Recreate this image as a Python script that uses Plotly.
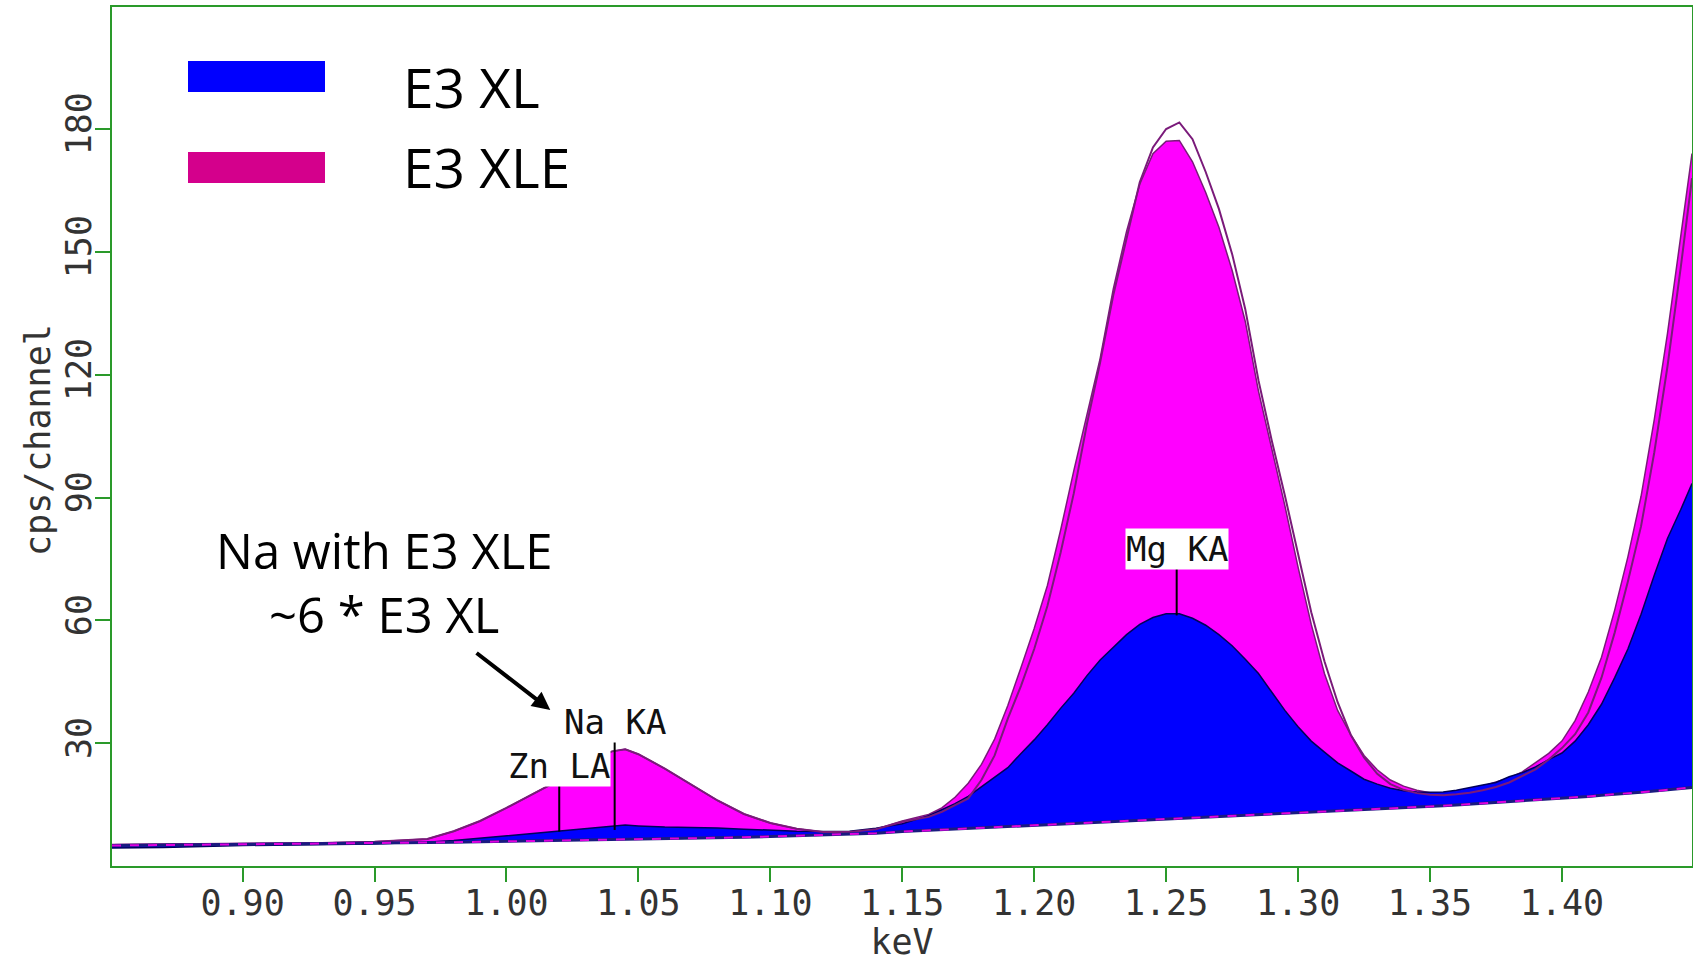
import plotly.graph_objects as go

# ---------------- data ----------------
energy_kev = [0.8505, 0.87, 0.90, 0.93, 0.95, 0.96, 0.97, 0.98, 0.99, 1.00,
              1.01, 1.02, 1.03, 1.04, 1.045, 1.05, 1.06, 1.07, 1.08, 1.09,
              1.10, 1.11, 1.12, 1.13, 1.14, 1.15, 1.16, 1.165, 1.17, 1.175,
              1.18, 1.185, 1.19, 1.195, 1.20, 1.205, 1.21, 1.215, 1.22, 1.225,
              1.23, 1.235, 1.24, 1.245, 1.25, 1.255, 1.26, 1.265, 1.27, 1.275,
              1.28, 1.285, 1.29, 1.295, 1.30, 1.305, 1.31, 1.315, 1.32, 1.325,
              1.33, 1.335, 1.34, 1.345, 1.35, 1.355, 1.36, 1.365, 1.37, 1.375,
              1.38, 1.385, 1.39, 1.395, 1.40, 1.405, 1.41, 1.415, 1.42, 1.425,
              1.43, 1.435, 1.44, 1.445, 1.4493]

background = [5.0, 5.1, 5.3, 5.4, 5.5, 5.6, 5.7, 5.8, 5.9, 6.0,
              6.1, 6.2, 6.3, 6.4, 6.45, 6.5, 6.6, 6.7, 6.85, 7.0,
              7.2, 7.4, 7.6, 7.8, 8.0, 8.4, 8.7, 8.9, 9.0, 9.2,
              9.3, 9.5, 9.6, 9.8, 10.0, 10.2, 10.3, 10.5, 10.6, 10.8,
              10.9, 11.1, 11.2, 11.3, 11.5, 11.6, 11.8, 11.9, 12.0, 12.2,
              12.3, 12.5, 12.6, 12.8, 12.9, 13.1, 13.3, 13.4, 13.6, 13.7,
              13.9, 14.0, 14.2, 14.3, 14.5, 14.7, 14.9, 15.1, 15.3, 15.5,
              15.7, 15.9, 16.1, 16.3, 16.5, 16.8, 17.0, 17.3, 17.5, 17.8,
              18.0, 18.3, 18.6, 18.9, 19.2]

e3_xle = [5.2, 5.3, 5.4, 5.6, 5.9, 6.2, 6.6, 8.5, 11.0, 14.2,
          17.5, 21.0, 25.0, 28.0, 28.5, 27.3, 23.8, 20.0, 16.0, 12.7,
          10.5, 9.1, 8.3, 8.3, 9.0, 11.0, 12.6, 14.2, 16.8, 20.2,
          24.8, 31.0, 39.2, 48.5, 58.0, 68.5, 82.0, 96.5, 110.0, 124.0,
          141.0, 155.0, 166.5, 174.0, 177.0, 177.2, 172.0, 164.5, 156.0, 145.5,
          133.0, 116.0, 102.0, 88.0, 73.0, 59.0, 47.0, 38.0, 32.0, 27.0,
          23.5, 21.0, 19.5, 18.5, 17.9, 17.9, 18.2, 18.8, 19.5, 20.5,
          21.5, 23.0, 25.2, 27.5, 30.5, 35.5, 42.5, 51.0, 62.5, 75.5,
          90.3, 109.0, 130.0, 154.0, 174.0]

e3_xl = [4.4, 4.5, 5.0, 5.2, 5.4, 5.6, 5.8, 6.2, 6.8, 7.3,
         7.9, 8.6, 9.2, 9.8, 10.0, 9.8, 9.5, 9.4, 9.3, 9.0,
         8.7, 8.5, 8.4, 8.5, 9.2, 10.3, 12.3, 13.8, 15.2, 17.0,
         19.3, 21.8, 24.0, 27.5, 30.8, 34.5, 38.5, 42.2, 46.5, 50.3,
         53.5, 56.5, 59.0, 60.7, 61.6, 61.6, 60.5, 58.8, 56.5, 53.8,
         50.5, 47.0, 42.5, 38.0, 34.0, 30.5, 27.8, 25.2, 23.2, 21.2,
         20.0, 19.0, 18.4, 18.1, 18.0, 18.1, 18.5, 19.2, 19.8, 20.4,
         21.8, 22.8, 24.2, 26.0, 27.6, 30.5, 34.5, 39.5, 46.0, 53.0,
         61.5, 71.0, 80.0, 87.0, 93.4]

fit_outline = [5.2, 5.3, 5.4, 5.6, 5.9, 6.2, 6.6, 8.5, 11.0, 14.2,
               17.5, 21.0, 25.0, 28.0, 28.5, 27.3, 23.8, 20.0, 16.0, 12.7,
               10.5, 9.1, 8.3, 8.3, 9.0, 10.8, 12.0, 13.2, 14.8, 16.5,
               21.0, 27.0, 36.0, 44.0, 53.0, 63.5, 76.5, 91.0, 108.0, 123.0,
               139.5, 153.5, 167.0, 175.5, 180.0, 181.6, 177.5, 169.5, 160.5, 149.5,
               136.0, 118.6, 104.0, 90.5, 76.0, 62.0, 50.0, 40.0, 32.0, 26.5,
               22.5, 20.0, 18.6, 17.8, 17.4, 17.3, 17.5, 17.9, 18.5, 19.3,
               20.4, 21.9, 23.6, 26.0, 28.8, 32.2, 37.5, 46.0, 57.0, 69.5,
               83.0, 101.0, 122.0, 146.0, 168.0]

peak_names = ["Zn LA", "Na KA", "Mg KA"]
peak_energy = [1.020, 1.041, 1.254]
peak_marker_bottom = [8.4, 8.8, 61.2]
peak_marker_top = [20.3, 31.0, 73.3]

x_ticks = [0.90, 0.95, 1.00, 1.05, 1.10, 1.15, 1.20, 1.25, 1.30, 1.35, 1.40]
y_ticks = [30, 60, 90, 120, 150, 180]

series_names = ["E3 XL", "E3 XLE"]

# ---------------- styles ----------------
W, H = 1693, 962
ML, MR, MT, MB = 112, 1, 7, 96
PW, PH = W - ML - MR, H - MT - MB
GREEN = "#2a9a2a"
MONO = "DejaVu Sans Mono, Liberation Mono, monospace"
SANS = "Open Sans, Noto Sans, sans-serif"


def px_x(px):
    return (px - ML) / PW


def px_y(py):
    return (H - MB - py) / PH


fig = go.Figure()

# magenta spectrum filled from the background
fig.add_trace(go.Scatter(x=energy_kev, y=background, mode="lines",
                         line=dict(width=0), hoverinfo="skip", showlegend=False))
fig.add_trace(go.Scatter(x=energy_kev, y=e3_xle, mode="lines", name="E3 XLE",
                         fill="tonexty", fillcolor="#ff00ff",
                         line=dict(color="#7a1a7a", width=1.5), showlegend=False))
# blue spectrum filled from the background
fig.add_trace(go.Scatter(x=energy_kev, y=background, mode="lines",
                         line=dict(width=0), hoverinfo="skip", showlegend=False))
fig.add_trace(go.Scatter(x=energy_kev, y=e3_xl, mode="lines", name="E3 XL",
                         fill="tonexty", fillcolor="#0000ff",
                         line=dict(color="#00005a", width=1.5), showlegend=False))
# outline curve
fig.add_trace(go.Scatter(x=energy_kev, y=fit_outline, mode="lines",
                         line=dict(color="#7a1a7a", width=2), showlegend=False))
# background line
fig.add_trace(go.Scatter(x=energy_kev, y=background, mode="lines",
                         line=dict(color="#1a1a80", width=3), showlegend=False))
fig.add_trace(go.Scatter(x=energy_kev, y=background, mode="lines",
                         line=dict(color="#e000e0", width=2, dash="dash"),
                         showlegend=False))

# peak marker lines
for e, b, t in zip(peak_energy, peak_marker_bottom, peak_marker_top):
    fig.add_trace(go.Scatter(x=[e, e], y=[b, t], mode="lines",
                             line=dict(color="black", width=2), showlegend=False))

# peak labels
for name, e, t in zip(peak_names, peak_energy, peak_marker_top):
    fig.add_annotation(x=e, y=t, text=name, showarrow=False, xanchor="center",
                       yanchor="bottom", yshift=-4, bgcolor="white", borderpad=0,
                       font=dict(family=MONO, size=34, color="#111111"))

# legend drawn as swatches + text
legend_colors = ["#0000ff", "#d4008c"]
legend_rows = [(61, 92, 87), (152, 183, 167)]
for name, col, (y0, y1, ty) in zip(series_names, legend_colors, legend_rows):
    fig.add_shape(type="rect", xref="paper", yref="paper",
                  x0=px_x(188), x1=px_x(325), y0=px_y(y1), y1=px_y(y0),
                  fillcolor=col, line=dict(width=0))
    fig.add_annotation(xref="paper", yref="paper", x=px_x(401), y=px_y(ty),
                       text=name, showarrow=False, xanchor="left", yanchor="middle",
                       font=dict(family=SANS, size=55, color="black"))

# comment text and arrow
fig.add_annotation(x=0.9537, y=69.3, text="Na with E3 XLE<br>~6 * E3 XL",
                   showarrow=False, xanchor="center", yanchor="middle",
                   font=dict(family=SANS, size=49, color="black"))
fig.add_annotation(x=1.0166, y=38.1, ax=0.9881, ay=52.3, axref="x", ayref="y",
                   text="", showarrow=True, arrowhead=2, arrowsize=0.9,
                   arrowwidth=4, arrowcolor="black")

# y axis title (placed as rotated text next to the tick labels)
fig.add_annotation(xref="paper", yref="paper", x=px_x(38), y=px_y(440),
                   text="cps/channel", textangle=-90, showarrow=False,
                   xanchor="center", yanchor="middle",
                   font=dict(family=MONO, size=35, color="#333333"))

fig.update_xaxes(range=[0.8505, 1.4493], tickvals=x_ticks,
                 ticktext=[f"{v:.2f}" for v in x_ticks],
                 showgrid=False, zeroline=False,
                 showline=True, mirror=True, linecolor=GREEN, linewidth=2,
                 ticks="outside", ticklen=14, tickwidth=2, tickcolor=GREEN,
                 ticklabelstandoff=-9,
                 tickfont=dict(family=MONO, size=35, color="#333333"),
                 title=dict(text="keV", standoff=22,
                            font=dict(family=MONO, size=35, color="#333333")))
fig.update_yaxes(range=[0, 209.8], tickvals=y_ticks,
                 ticktext=[str(v) for v in y_ticks], tickangle=-90,
                 showgrid=False, zeroline=False,
                 showline=True, mirror=True, linecolor=GREEN, linewidth=2,
                 ticks="outside", ticklen=15, tickwidth=2, tickcolor=GREEN,
                 ticklabelstandoff=-10,
                 tickfont=dict(family=MONO, size=35, color="#333333"))

fig.update_layout(width=W, height=H,
                  margin=dict(l=ML, r=MR, t=MT, b=MB, autoexpand=False),
                  paper_bgcolor="white", plot_bgcolor="white",
                  showlegend=False)

fig.write_html("out.html", config={"displayModeBar": False},
               post_script="document.body.style.margin='0';"
                           "document.body.style.overflow='hidden';")
